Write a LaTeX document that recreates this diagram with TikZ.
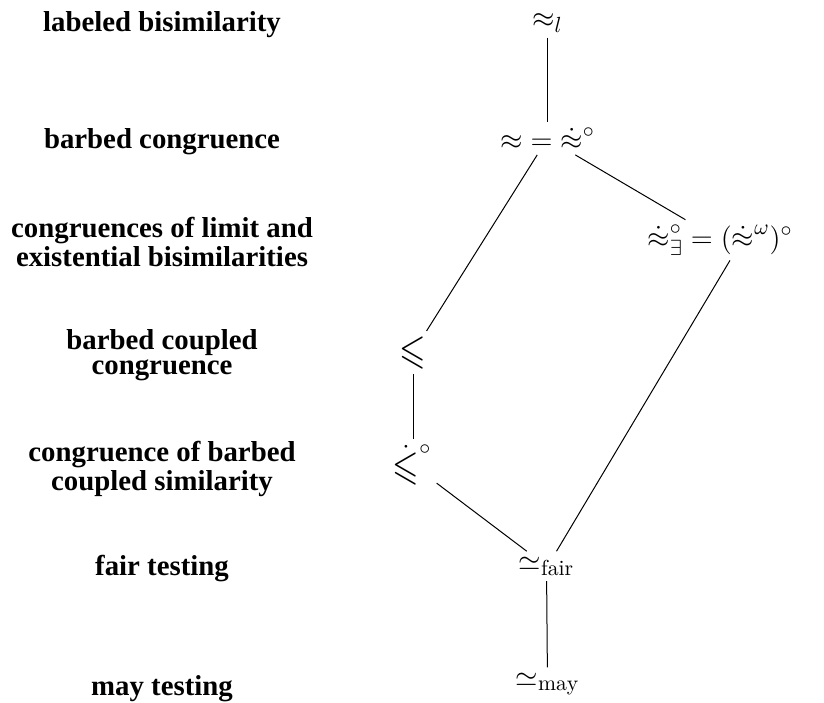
\documentclass[tikz,border=0pt]{standalone}
\usepackage{amssymb}
\usepackage{graphicx}
\usepackage{fontspec}
\newfontfamily\labfont{Liberation Serif}
\newcommand{\tallleq}{\mathrel{\scalebox{1.1}[1.35]{$\leqslant$}}}
\begin{document}
\begin{tikzpicture}[x=0.5pt,y=-0.5pt,
  lab/.style={font=\labfont\bfseries\fontsize{14.4}{12.8}\selectfont, align=center, anchor=center, inner sep=0pt},
  rel/.style={font=\fontsize{15.5}{18}\selectfont, anchor=base, inner sep=2.5pt},
  conn/.style={line width=0.5pt}]
\useasboundingbox (0,0) rectangle (824,702);
% labels
\node[lab] (l1) at (162,25) {labeled bisimilarity};
\node[lab] (l2) at (162,142) {barbed congruence};
\node[lab] (l3) at (162,242) {congruences of limit and\\existential bisimilarities};
\node[lab] (l4) at (162,355) {barbed coupled\\congruence};
\node[lab] (l5) at (162,469) {congruence of barbed\\coupled similarity};
\node[lab] (l6) at (162,569) {fair testing};
\node[lab] (l7) at (162,689) {may testing};
% relations
\node[rel] (top) at (547.5,27) {${\approx}_{l}$};
\node[rel] (bc) at (547.5,149.5) {${\approx} = {\dot{\approx}}^{\circ}$};
\node[rel] (ex) at (720,247) {${\dot{\approx}}^{\circ}_{\exists} = ({\dot{\approx}}^{\omega})^{\circ}$};
\node[rel] (n1) at (413,363) {$\tallleq$};
\node[rel] (n2) at (412,479) {${\dot{\tallleq}}^{\circ}$};
\node[rel] (fair) at (546.5,570) {${\simeq}_{\mathrm{fair}}$};
\node[rel] (may) at (547.5,686) {${\simeq}_{\mathrm{may}}$};
% connectors
\draw[conn] (top) -- (bc);
\draw[conn] (bc) -- (ex);
\draw[conn] (bc) -- (n1);
\draw[conn] (n1) -- (n1 |- n2.north);
\draw[conn] (n2) -- (fair);
\draw[conn] ([xshift=5pt]ex.south) -- ([xshift=5pt]fair.north);
\draw[conn] (fair) -- (may);
\end{tikzpicture}
\end{document}
